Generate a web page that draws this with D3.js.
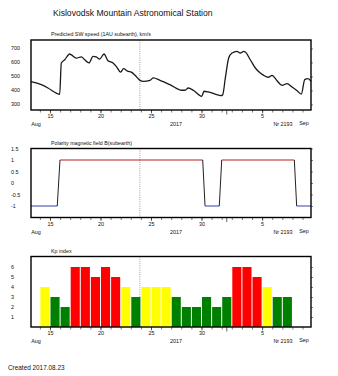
<!DOCTYPE html>
<html>
<head>
<meta charset="utf-8">
<script src="https://cdn.jsdelivr.net/npm/d3@7"></script>
<style>
  body { margin: 0; background: #fff; }
  svg { display: block; }
  text { font-family: "Liberation Sans", Arial, sans-serif; fill: #111; }
</style>
</head>
<body>
<svg id="chart" width="338" height="376"></svg>
<script>
// Time is counted in days from 2017-08-15 00:00 UT.
const viewStartDay = -1.88;
const viewEndDay = 25.84;
const nowMarkDay = 8.9;        // moment the forecast was made
const rotationMarkDay = 17.5;  // rotation boundary marker

// Predicted solar wind speed, km/s
const swDay = [-1.88, -0.86, -0.20, 0.62, 0.96, 1.12, 1.46, 1.95, 2.08, 2.60, 3.10, 3.44, 3.86, 4.26, 4.58,
  4.92, 5.35, 5.74, 6.24, 6.56, 7.00, 7.28, 7.67, 8.09, 8.42, 8.91, 9.24, 9.90, 10.23, 10.89, 11.88,
  13.04, 13.37, 13.69, 14.19, 15.02, 15.25, 15.67, 16.34, 16.93, 17.10, 17.36, 17.69, 18.02, 18.51,
  18.84, 19.18, 19.34, 19.83, 20.33, 20.82, 21.32, 21.65, 21.98, 22.48, 22.97, 23.47, 23.96, 24.46,
  24.88, 25.22, 25.54, 25.84];
const swSpeed = [462, 441, 417, 381, 372, 596, 619, 660, 656, 631, 639, 619, 596, 643, 639,
  624, 660, 612, 596, 572, 531, 555, 538, 529, 508, 472, 465, 472, 489, 472, 441,
  401, 401, 417, 401, 358, 394, 389, 374, 362, 369, 489, 631, 667, 679,
  667, 679, 674, 619, 560, 524, 501, 494, 508, 469, 436, 448, 424, 398,
  374, 477, 484, 465];

// Polarity of the interplanetary magnetic field
const polDay = [-1.88, 0.72, 0.99, 15.12, 15.35, 16.76, 17.0, 24.19, 24.42, 25.84];
const polValue = [-1, -1, 1, 1, -1, -1, 1, 1, -1, -1];

// Daily Kp index
const kpDate = ["2017-08-14", "2017-08-15", "2017-08-16", "2017-08-17", "2017-08-18", "2017-08-19",
  "2017-08-20", "2017-08-21", "2017-08-22", "2017-08-23", "2017-08-24", "2017-08-25", "2017-08-26",
  "2017-08-27", "2017-08-28", "2017-08-29", "2017-08-30", "2017-08-31", "2017-09-01", "2017-09-02",
  "2017-09-03", "2017-09-04", "2017-09-05", "2017-09-06", "2017-09-07"];
const kpValue = [4, 3, 2, 6, 6, 5, 6, 5, 4, 3, 4, 4, 4, 3, 2, 2, 3, 2, 3, 6, 6, 5, 4, 3, 3];

// Axis labels
const dayLabelDates = ["2017-08-15", "2017-08-20", "2017-08-25", "2017-08-30", "2017-09-05"];
const dayLabelText = ["15", "20", "25", "30", "5"];
const swTicks = [300, 400, 500, 600, 700];
const polTicks = [1.5, 1, 0.5, 0, -0.5, -1];
const kpTicks = [1, 2, 3, 4, 5, 6];

const origin = Date.UTC(2017, 7, 15);
const dayToDate = d => new Date(origin + d * 864e5);
const parseDay = d3.utcParse("%Y-%m-%d");

const svg = d3.select("#chart");
const left = 31, right = 311;

const x = d3.scaleUtc()
  .domain([dayToDate(viewStartDay), dayToDate(viewEndDay)])
  .range([left, right]);

svg.append("text")
  .attr("x", 53).attr("y", 16)
  .attr("font-size", 8.6)
  .text("Kislovodsk Mountain Astronomical Station");

function panel(top, height, yDomain, ticks, title) {
  const g = svg.append("g");
  const y = d3.scaleLinear().domain(yDomain).range([top + height, top]);

  g.append("text")
    .attr("x", 51).attr("y", top - 4)
    .attr("font-size", 5.3)
    .text(title);

  // value labels on the left
  g.selectAll("text.yl").data(ticks).join("text")
    .attr("class", "yl")
    .attr("x", 11).attr("y", d => y(d) + 2)
    .attr("font-size", 5.4)
    .text(d => d);

  // small ticks on the right edge
  g.append("g")
    .attr("transform", `translate(${right},0)`)
    .call(d3.axisRight(y).tickValues(ticks).tickSize(2).tickFormat(""))
    .call(a => a.select(".domain").remove())
    .selectAll("line").attr("stroke", "#333").attr("stroke-width", 0.6);

  // daily ticks
  const bottom = top + height;
  g.append("g")
    .attr("transform", `translate(0,${bottom})`)
    .call(d3.axisBottom(x).ticks(d3.utcDay.every(1)).tickSize(2.5).tickFormat(""))
    .call(a => a.select(".domain").remove())
    .selectAll("line").attr("stroke", "#222").attr("stroke-width", 0.6);

  const labelDates = dayLabelDates.map(parseDay);
  g.append("g")
    .attr("transform", `translate(0,${bottom})`)
    .call(d3.axisBottom(x).tickValues(labelDates).tickSize(3.5)
      .tickFormat((d, i) => dayLabelText[i]))
    .call(a => a.select(".domain").remove())
    .call(a => a.selectAll("line").attr("stroke", "#222").attr("stroke-width", 0.6))
    .call(a => a.selectAll("text").attr("font-size", 5.4).attr("dy", "0.3em")
      .attr("font-family", "Liberation Sans, Arial, sans-serif").attr("fill", "#111"));

  g.append("line")
    .attr("x1", x(dayToDate(rotationMarkDay))).attr("x2", x(dayToDate(rotationMarkDay)))
    .attr("y1", bottom).attr("y2", bottom + 4.5)
    .attr("stroke", "#222").attr("stroke-width", 0.7);

  const sub = g.append("g").attr("font-size", 5.4);
  sub.append("text").attr("x", 36).attr("y", bottom + 16).attr("text-anchor", "middle").text("Aug");
  sub.append("text").attr("x", 176).attr("y", bottom + 16).attr("text-anchor", "middle").text("2017");
  sub.append("text").attr("x", 283).attr("y", bottom + 16).attr("text-anchor", "middle").text("Nr 2193");
  sub.append("text").attr("x", 304).attr("y", bottom + 15).attr("text-anchor", "middle").text("Sep");

  // moment of forecast
  g.append("line")
    .attr("x1", x(dayToDate(nowMarkDay))).attr("x2", x(dayToDate(nowMarkDay)))
    .attr("y1", top).attr("y2", bottom)
    .attr("stroke", "#888").attr("stroke-width", 0.8).attr("stroke-dasharray", "1,1.2");

  const plot = g.append("g");
  const frame = g.append("rect")
    .attr("x", left).attr("y", top).attr("width", right - left).attr("height", height)
    .attr("fill", "none").attr("stroke", "#000").attr("stroke-width", 1.4);
  return { y, plot, top, bottom };
}

// Solar wind speed
const p1 = panel(40, 70, [260, 760], swTicks, "Predicted SW speed (1AU subearth), km/s");
const swLine = d3.line()
  .x((d, i) => x(dayToDate(swDay[i])))
  .y(d => p1.y(d))
  .curve(d3.curveMonotoneX);
p1.plot.append("path")
  .attr("d", swLine(swSpeed))
  .attr("fill", "none").attr("stroke", "#1a1a1a").attr("stroke-width", 1.3)
  .attr("stroke-linejoin", "round");

// Magnetic field polarity
const p2 = panel(148.5, 69, [-1.5, 1.5], polTicks, "Polarity magnetic field  B(subearth)");
const polSegs = d3.pairs(d3.range(polDay.length));
p2.plot.selectAll("line").data(polSegs).join("line")
  .attr("x1", ([a]) => x(dayToDate(polDay[a])))
  .attr("x2", ([, b]) => x(dayToDate(polDay[b])))
  .attr("y1", ([a]) => p2.y(polValue[a]))
  .attr("y2", ([, b]) => p2.y(polValue[b]))
  .attr("stroke", ([a, b]) => polValue[a] !== polValue[b] ? "#222"
    : polValue[a] > 0 ? "#b02020" : "#3040a8")
  .attr("stroke-width", 1);

// Kp index
const p3 = panel(256.5, 70.5, [0, 7.05], kpTicks, "Kp index");
const kpColor = v => v >= 5 ? "#ff0000" : v === 4 ? "#ffff00" : "#008000";
p3.plot.selectAll("rect").data(kpValue).join("rect")
  .attr("x", (d, i) => x(parseDay(kpDate[i])) + 0.5)
  .attr("width", (d, i) => x(d3.utcDay.offset(parseDay(kpDate[i]), 1)) - x(parseDay(kpDate[i])) - 1)
  .attr("y", d => p3.y(d))
  .attr("height", d => p3.y(0) - p3.y(d))
  .attr("fill", kpColor);

svg.append("text")
  .attr("x", 8).attr("y", 370)
  .attr("font-size", 6.4)
  .text("Created  2017.08.23");
</script>
</body>
</html>
